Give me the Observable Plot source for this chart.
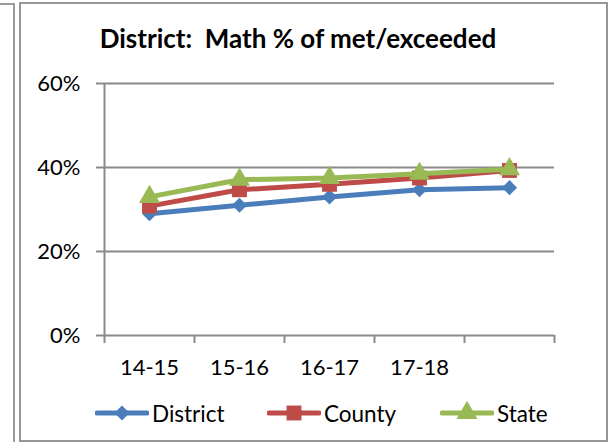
<!DOCTYPE html>
<html>
<head>
<meta charset="utf-8">
<script src="https://cdn.jsdelivr.net/npm/d3@7"></script>
<script src="https://cdn.jsdelivr.net/npm/@observablehq/plot@0.6"></script>
<style>
  html, body { margin: 0; padding: 0; background: #fff; }
  #wrap { position: relative; width: 613px; height: 442px; overflow: hidden; font-family: Lato, "Noto Sans", sans-serif; }
  .box { position: absolute; box-sizing: border-box; }
  #title { position: absolute; left: 0; width: 596px; top: 22px; text-align: center; font-weight: bold; font-size: 26px; color: #000; white-space: pre; }
  #legend { position: absolute; top: 399px; left: 0; width: 613px; height: 28px; }
  .item { position: absolute; top: 0; display: flex; align-items: center; font-size: 22.5px; color: #000; }
  .item svg { display: block; margin-right: 3px; }
  #chart { position: absolute; left: 0; top: 0; }
</style>
</head>
<body>
<div id="wrap">
  <div class="box" style="left:-4px; top:3px; width:19px; height:450px; border:2px solid #9a9a9a; border-left:none; border-bottom:none;"></div>
  <div class="box" style="left:19px; top:2px; width:589px; height:440px; border:2px solid #969696;"></div>
  <div id="chart"></div>
  <div id="title">District:  Math % of met/exceeded</div>
  <div id="legend"></div>
</div>
<script>
const years = ["14-15", "15-16", "16-17", "17-18", "18-19"];
const tickLabels = ["14-15", "15-16", "16-17", "17-18", ""];
const seriesNames = ["District", "County", "State"];
const district = [29.0, 31.0, 33.0, 34.7, 35.2];
const county = [30.8, 34.7, 36.0, 37.5, 39.3];
const state = [33.0, 37.1, 37.5, 38.5, 39.6];
const yTicks = [0, 20, 40, 60];

const colors = {District: "#4a7ebb", County: "#be4b48", State: "#98b954"};
const symbols = {District: "diamond2", County: "square", State: "triangle"};
const radii = {District: 6.8, County: 8.4, State: 7.8};

const valuesBySeries = {District: district, County: county, State: state};
const data = seriesNames.flatMap(s => valuesBySeries[s].map((v, i) => ({series: s, year: years[i], xi: i + 0.5, value: v})));

const marks = [
  Plot.ruleY(yTicks.filter(d => d > 0), {stroke: "#8a8a8a", strokeWidth: 2}),
  Plot.axisY({ticks: yTicks, tickFormat: d => d + "%", tickSize: 8, tickPadding: 16, stroke: "#8a8a8a", strokeWidth: 2, fontSize: 22, fill: "#000", strokeOpacity: 1, label: null}),
  Plot.axisX({ticks: d3.range(years.length + 1), tickFormat: () => "", tickSize: 8, stroke: "#8a8a8a", strokeWidth: 2, strokeOpacity: 1, label: null}),
  Plot.text(tickLabels, {x: (d, i) => i + 0.5, text: d => d, frameAnchor: "bottom", dy: 39, fontSize: 22, fill: "#000"}),
  Plot.ruleY([0], {stroke: "#8a8a8a", strokeWidth: 2}),
  Plot.ruleX([0], {stroke: "#8a8a8a", strokeWidth: 2})
];
for (const s of seriesNames) {
  const rows = data.filter(d => d.series === s);
  marks.push(Plot.line(rows, {x: "xi", y: "value", stroke: colors[s], strokeWidth: 5, strokeLinejoin: "round"}));
  marks.push(Plot.dot(rows, {x: "xi", y: "value", symbol: symbols[s], r: radii[s], fill: colors[s], stroke: "none"}));
}

const chart = Plot.plot({
  width: 613,
  height: 442,
  marginLeft: 104,
  marginRight: 59,
  marginTop: 83,
  marginBottom: 107,
  style: {fontFamily: "Lato, 'Noto Sans', sans-serif", background: "transparent", overflow: "visible"},
  x: {type: "linear", domain: [0, years.length], axis: null, label: null},
  y: {domain: [0, 60], axis: null, label: null},
  marks
});
document.getElementById("chart").appendChild(chart);

// legend
const legend = document.getElementById("legend");
const legendLeft = {District: 95, County: 267, State: 440};
for (const s of seriesNames) {
  const item = document.createElement("div");
  item.className = "item";
  item.style.left = legendLeft[s] + "px";
  const svg = d3.create("svg").attr("width", 54).attr("height", 28);
  svg.append("line").attr("x1", 2).attr("x2", 52).attr("y1", 14).attr("y2", 14)
    .attr("stroke", colors[s]).attr("stroke-width", 5).attr("stroke-linecap", "round");
  const sym = {diamond2: d3.symbolDiamond2, square: d3.symbolSquare, triangle: d3.symbolTriangle}[symbols[s]];
  svg.append("path").attr("transform", "translate(27,14)")
    .attr("d", d3.symbol(sym, Math.PI * radii[s] * radii[s])())
    .attr("fill", colors[s]);
  item.appendChild(svg.node());
  const label = document.createElement("span");
  label.textContent = s;
  item.appendChild(label);
  legend.appendChild(item);
}
</script>
</body>
</html>
